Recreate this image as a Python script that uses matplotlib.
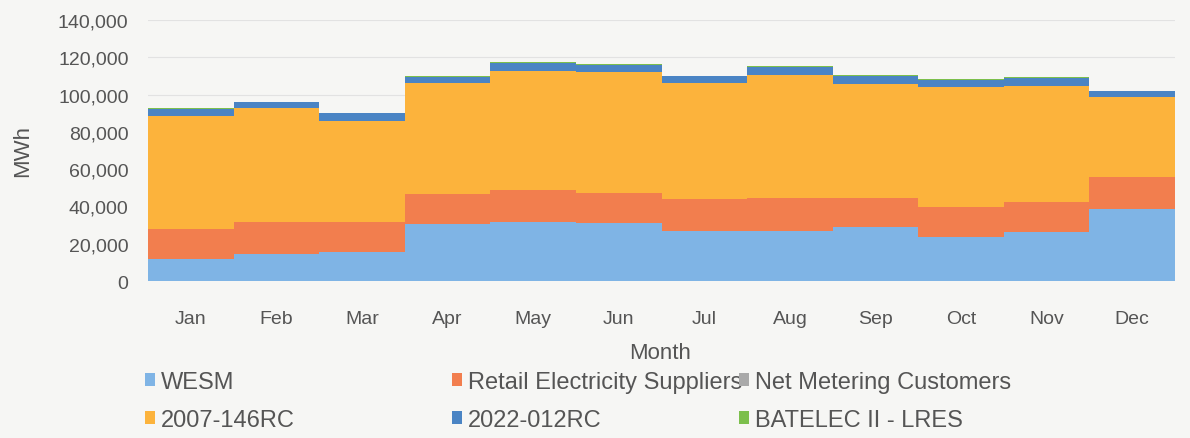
import numpy as np
import matplotlib.pyplot as plt
from matplotlib.patches import Patch

months = ["Jan", "Feb", "Mar", "Apr", "May", "Jun",
          "Jul", "Aug", "Sep", "Oct", "Nov", "Dec"]

# MWh per supplier
wesm = [11800, 14500, 15600, 30600, 31700, 31000, 26900, 26900, 29000, 23700, 26300, 38700]
retail = [16200, 17200, 16100, 16200, 17200, 16300, 17200, 17500, 15400, 16100, 16200, 17200]
net_metering = [50, 55, 60, 65, 70, 70, 65, 65, 60, 60, 55, 50]
rc_2007 = [60200, 61300, 54300, 59100, 63500, 64500, 61800, 65800, 61000, 64000, 61800, 42500]
rc_2022 = [3900, 2800, 3900, 3400, 4500, 3900, 3900, 4400, 4400, 3900, 4400, 3300]
lres = [400, 350, 350, 400, 500, 400, 350, 400, 400, 350, 400, 350]

series_names = ["WESM", "Retail Electricity Suppliers", "Net Metering Customers",
                "2007-146RC", "2022-012RC", "BATELEC II - LRES"]
series_colors = ["#7fb4e5", "#f27e4e", "#a9a9a9", "#fcb33c", "#4a84c4", "#7cbf4c"]

plt.rcParams['font.family'] = ['Liberation Sans', 'DejaVu Sans']
text_color = "#555555"

fig = plt.figure(figsize=(11.9, 4.39), dpi=100, facecolor="#f6f6f4")
ax = fig.add_axes([0.1244, 0.3576, 0.863, 0.5946])
ax.set_facecolor("#f6f6f4")

x = np.arange(len(months))
bottom = np.zeros(len(months))
for vals, name, col in zip([wesm, retail, net_metering, rc_2007, rc_2022, lres],
                           series_names, series_colors):
    ax.bar(x, vals, width=1.0, bottom=bottom, color=col, edgecolor="none",
           label=name, zorder=2)
    bottom += np.array(vals)

ax.set_xlim(-0.5, len(months) - 0.5)
ax.set_ylim(0, 140000)
ax.set_yticks(np.arange(0, 140001, 20000))
ax.yaxis.set_major_formatter(plt.FuncFormatter(lambda v, p: f"{int(v):,}"))
ax.set_xticks(x)
ax.set_xticklabels(months)
ax.grid(axis="y", color="#e2e2e2", linewidth=0.8, zorder=0)
for s in ax.spines.values():
    s.set_visible(False)
ax.tick_params(axis="y", length=0, pad=14, labelsize=14, labelcolor=text_color)
ax.tick_params(axis="x", length=0, pad=21, labelsize=14, labelcolor=text_color)

ax.set_ylabel("MWh", fontsize=16, color=text_color, labelpad=18)
fig.text(0.555, 0.195, "Month", fontsize=16, color=text_color, ha="center", va="center")

# legend laid out as three columns like the original
col_x = [0.122, 0.380, 0.621]
for i, cx in enumerate(col_x):
    idx = [i, i + 3]
    handles = [Patch(facecolor=series_colors[j], edgecolor="none") for j in idx]
    labels = [series_names[j] for j in idx]
    fig.legend(handles, labels, loc="upper left", bbox_to_anchor=(cx, 0.153),
               frameon=False, fontsize=17, labelcolor=text_color,
               handlelength=0.42, handleheight=0.42, handletextpad=0.25,
               labelspacing=0.68, borderpad=0, borderaxespad=0)

fig.savefig("out.png", dpi=100, facecolor=fig.get_facecolor())
